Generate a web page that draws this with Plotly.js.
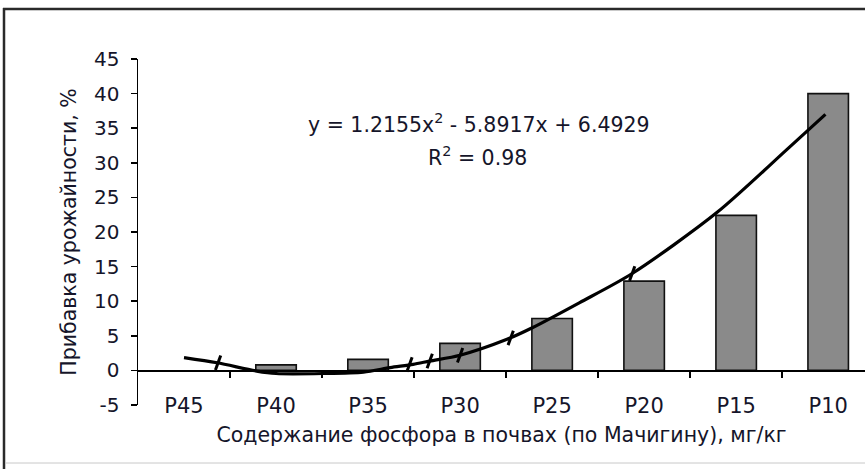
<!DOCTYPE html>
<html>
<head>
<meta charset="utf-8">
<script src="https://cdn.plot.ly/plotly-3.0.1.min.js"></script>
<style>html,body{margin:0;padding:0;background:#fff;}#chart{width:865px;height:469px;}</style>
</head>
<body>
<div id="chart"></div>
<script>
// Categories (phosphorus content classes)
const categories = ["P45", "P40", "P35", "P30", "P25", "P20", "P15", "P10"];
// Yield increase, %
const yieldIncrease = [null, 0.8, 1.6, 3.9, 7.5, 12.9, 22.4, 40.0];
// Trend line (position in category units, value)
const trendPos = [0.0, 0.36, 0.79, 1.0, 1.51, 1.95, 2.24, 2.49, 2.67, 3.0, 3.51, 3.79, 4.3, 4.87, 5.79, 6.55, 6.97];
const trendVal = [1.85, 1.1, -0.1, -0.45, -0.45, -0.25, 0.4, 0.87, 1.35, 2.2, 4.5, 6.2, 9.8, 14.0, 22.8, 31.9, 37.0];
// small hatch marks visible on the trend line
const hatchPos = [0.37, 2.45, 2.67, 3.0, 3.55, 4.87];
const hatchVal = [1.1, 0.85, 1.35, 2.2, 4.7, 14.0];
const yTicks = [-5, 0, 5, 10, 15, 20, 25, 30, 35, 40, 45];
const equationText = "y = 1.2155x<sup>2</sup> - 5.8917x + 6.4929";
const r2Text = "R<sup>2</sup> = 0.98";
const xTitle = "Содержание фосфора в почвах (по Мачигину), мг/кг";
const yTitle = "Прибавка урожайности, %";

const W = 865, H = 469, L = 138, R = 0, T = 59, B = 64;
const px = v => (v - L) / (W - L - R);
const py = v => 1 - (v - T) / (H - T - B);

const idx = categories.map((_, i) => i);
const boundaries = categories.slice(0, -1).map((_, i) => i + 0.5);
const FONT = "DejaVu Sans";
const TXT = "#15152a";

const traces = [
  {
    type: "bar", x: idx, y: yieldIncrease, width: 0.44,
    marker: {color: "#8a8a8a", line: {color: "#111", width: 1.6}},
    hoverinfo: "skip", showlegend: false
  },
  {
    type: "scatter", mode: "lines", x: trendPos, y: trendVal,
    line: {color: "#000", width: 3.2, shape: "spline", smoothing: 0.8},
    hoverinfo: "skip", showlegend: false
  },
  {
    type: "scatter", mode: "markers", x: hatchPos, y: hatchVal,
    marker: {symbol: "line-ns", size: 11, angle: 20, line: {color: "#000", width: 3}},
    hoverinfo: "skip", showlegend: false
  },
  {
    type: "scatter", mode: "markers", x: [0.5], y: [0], xaxis: "x2", yaxis: "y",
    marker: {opacity: 0}, hoverinfo: "skip", showlegend: false
  }
];

const layout = {
  width: W, height: H,
  margin: {l: L, r: R, t: T, b: B, pad: 0},
  paper_bgcolor: "#fff", plot_bgcolor: "rgba(0,0,0,0)",
  font: {family: FONT, color: TXT, size: 20},
  showlegend: false,
  xaxis: {
    type: "linear", range: [-0.5, 7.4], tickvals: idx, ticktext: categories,
    showgrid: false, zeroline: false, showline: false, ticks: "",
    tickfont: {size: 21, family: FONT, color: TXT},
    ticklabelstandoff: -14,
    title: {text: xTitle, font: {size: 20.5, family: FONT, color: TXT}, standoff: 10},
    fixedrange: true
  },
  xaxis2: {
    overlaying: "x", anchor: "free", position: 0.1, side: "bottom",
    type: "linear", range: [-0.5, 7.4], tickvals: boundaries,
    showticklabels: false, ticks: "outside", ticklen: 6, tickwidth: 1.5, tickcolor: "#000",
    showline: true, linecolor: "#000", linewidth: 1.5,
    showgrid: false, zeroline: false
  },
  yaxis: {
    range: [-5, 45], tickvals: yTicks, ticktext: yTicks.map(v => String(v)),
    showgrid: false, zeroline: false,
    showline: true, linecolor: "#000", linewidth: 1.5,
    ticks: "outside", ticklen: 6, tickwidth: 1.5, tickcolor: "#000",
    tickfont: {size: 20, family: FONT, color: TXT},
    ticklabelstandoff: 7,
    title: {text: yTitle, font: {size: 20.5, family: FONT, color: TXT}, standoff: 12},
    fixedrange: true
  },
  annotations: [
    {text: equationText, xref: "paper", yref: "paper", x: px(479), y: py(123),
     xanchor: "center", yanchor: "middle", showarrow: false,
     font: {size: 20.5, family: FONT, color: TXT}},
    {text: r2Text, xref: "paper", yref: "paper", x: px(477), y: py(156),
     xanchor: "center", yanchor: "middle", showarrow: false,
     font: {size: 20.5, family: FONT, color: TXT}}
  ],
  shapes: [
    {type: "line", xref: "paper", yref: "paper", x0: px(4), x1: px(4), y0: py(8), y1: py(469), line: {color: "#2a2a2a", width: 2.5}},
    {type: "line", xref: "paper", yref: "paper", x0: px(3), x1: px(865), y0: py(9), y1: py(9), line: {color: "#2a2a2a", width: 2.5}},
    {type: "line", xref: "paper", yref: "paper", x0: px(5), x1: px(865), y0: py(463), y1: py(463), line: {color: "#c8c8c8", width: 1}}
  ]
};

Plotly.newPlot("chart", traces, layout, {staticPlot: true, displayModeBar: false});
</script>
</body>
</html>
